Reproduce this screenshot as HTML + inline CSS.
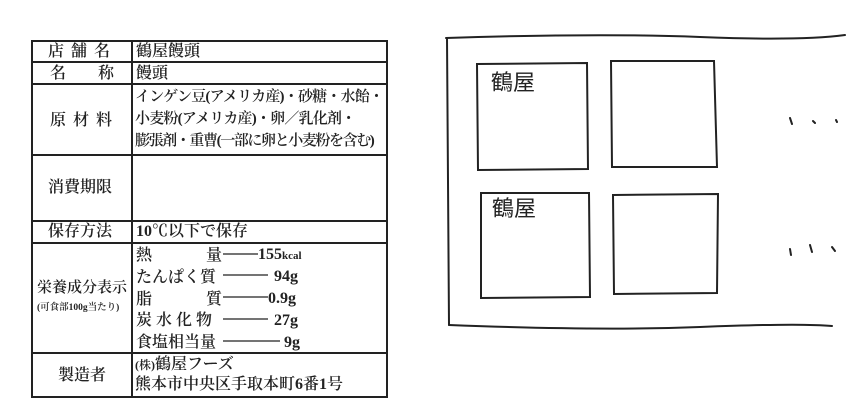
<!DOCTYPE html>
<html><head><meta charset="utf-8"><style>
body{margin:0;background:#fff;width:852px;height:419px;overflow:hidden;position:relative;font-family:"Liberation Serif","Noto Serif CJK SC","Noto Sans CJK JP",serif;color:#222}
svg{position:absolute;left:0;top:0}
.t{position:absolute;font-size:16px;line-height:19px;white-space:nowrap;font-weight:600}
</style></head><body>
<svg width="852" height="419">
<g stroke="#222" stroke-width="2" fill="none">
<rect x="32" y="41" width="355" height="356"/>
<line x1="132" y1="41" x2="132" y2="397"/>
<line x1="32" y1="62" x2="387" y2="62"/>
<line x1="32" y1="84" x2="387" y2="84"/>
<line x1="32" y1="155" x2="387" y2="155"/>
<line x1="32" y1="221" x2="387" y2="221"/>
<line x1="32" y1="243" x2="387" y2="243"/>
<line x1="32" y1="353" x2="387" y2="353"/>
</g>
<g stroke="#222" stroke-width="1.3" fill="none">
<line x1="223" y1="254" x2="258" y2="254"/>
<line x1="223" y1="275" x2="268" y2="275"/>
<line x1="223" y1="297" x2="268" y2="297"/>
<line x1="223" y1="319" x2="268" y2="319"/>
<line x1="223" y1="341" x2="280" y2="341"/>
</g>
<g stroke="#222" stroke-width="2" fill="none" stroke-linecap="round">
<path d="M446 38 Q600 33 700 37 T845 35"/>
<path d="M447 38 L449 325"/>
<path d="M449 325 Q600 331 700 327 T832 326"/>
<path d="M477 64 L587 63 L588 169 L478 170 Z"/>
<path d="M611 61 L714 61 L717 167 L612 167 Z"/>
<path d="M481 193 L589 193 L590 297 L481 298 Z"/>
<path d="M613 195 L718 194 L717 293 L614 294 Z"/>
<path d="M790 118 l2 6 M813 121 l2 2 M836 120 l1 2 M790 249 l1 6 M810 245 l2 7 M832 247 l3 4"/>
</g>
</svg>
<div class="t" style="left:48px;top:42px;letter-spacing:7px">店舗名</div>
<div class="t" style="left:136px;top:42px">鶴屋饅頭</div>
<div class="t" style="left:50px;top:64px">名<span style="display:inline-block;width:32px"></span>称</div>
<div class="t" style="left:136px;top:64px">饅頭</div>
<div class="t" style="left:50px;top:111px;letter-spacing:7px">原材料</div>
<div class="t" style="left:135px;top:86px;font-size:15px;line-height:22px;letter-spacing:-0.8px">インゲン豆(アメリカ産)・砂糖・水飴・<br>小麦粉(アメリカ産)・卵／乳化剤・<br><span style="letter-spacing:-1.4px">膨張剤・重曹(一部に卵と小麦粉を含む)</span></div>
<div class="t" style="left:48px;top:178px">消費期限</div>
<div class="t" style="left:48px;top:222px">保存方法</div>
<div class="t" style="left:136px;top:222px">10℃以下で保存</div>
<div class="t" style="left:37px;top:279px;font-size:15px">栄養成分表示</div>
<div class="t" style="left:37px;top:299px;font-size:9.5px">(可食部100g当たり)</div>
<div class="t" style="left:136px;top:245px;line-height:21.8px">熱<span style="display:inline-block;width:54px"></span>量<br>たんぱく質<br>脂<span style="display:inline-block;width:54px"></span>質<br>炭 水 化 物<br>食塩相当量</div>
<div class="t" style="left:258px;top:245px">155<span style="font-size:11px">kcal</span></div>
<div class="t" style="left:274px;top:267px">94g</div>
<div class="t" style="left:268px;top:289px">0.9g</div>
<div class="t" style="left:274px;top:311px">27g</div>
<div class="t" style="left:284px;top:333px">9g</div>
<div class="t" style="left:58px;top:366px">製造者</div>
<div class="t" style="left:135px;top:355px;line-height:20px"><span style="font-size:12px">(株)</span>鶴屋フーズ<br>熊本市中央区手取本町6番1号</div>
<div class="t" style="left:491px;top:68px;font-size:22px;line-height:26px;font-family:'Noto Sans CJK JP',sans-serif;font-weight:400">鶴屋</div>
<div class="t" style="left:492px;top:194px;font-size:22px;line-height:26px;font-family:'Noto Sans CJK JP',sans-serif;font-weight:400">鶴屋</div>
</body></html>
